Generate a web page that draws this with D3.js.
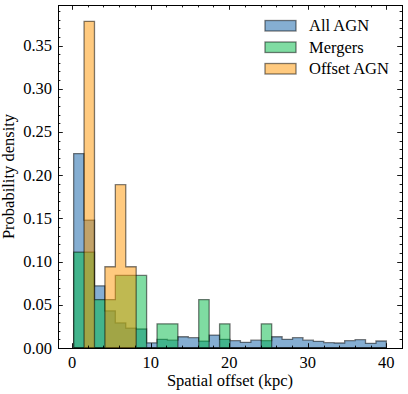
<!DOCTYPE html>
<html>
<head>
<meta charset="utf-8">
<script src="https://cdn.jsdelivr.net/npm/d3@7"></script>
<style>
  body { margin: 0; background: #fff; }
  svg text { font-family: "Liberation Serif", "DejaVu Serif", serif; fill: #000; }
</style>
</head>
<body>
<svg width="408" height="394"></svg>
<script>
'use strict';

// shared histogram bins: 30 bins from the smallest to the largest offset (kpc)
const binStart = 0.2, binEnd = 40, nBins = 30;

// probability density per bin
const allAgn = [0.225, 0.148, 0.072, 0.043, 0.029, 0.023, 0.022, 0.006, 0.010, 0.009,
                0.013, 0.012, 0.008, 0.015, 0.010, 0.0085, 0.0066, 0.009, 0.0085, 0.013,
                0.010, 0.012, 0.009, 0.0077, 0.0062, 0.0058, 0.0085, 0.0096, 0.0054, 0.0081];
const mergers = [0.111, 0.111, 0.056, 0.056, 0.084, 0.084, 0.084, 0, 0.028, 0.028,
                 0, 0, 0.056, 0, 0.028, 0, 0, 0, 0.028, 0,
                 0, 0, 0, 0, 0, 0, 0, 0, 0, 0];
const offsetAgn = [0, 0.378, 0, 0.094, 0.189, 0.094, 0, 0, 0, 0,
                   0, 0, 0, 0, 0, 0, 0, 0, 0, 0,
                   0, 0, 0, 0, 0, 0, 0, 0, 0, 0];

const seriesNames = ['All AGN', 'Mergers', 'Offset AGN'];
const seriesColors = ['#0C5DA5', '#00B945', '#FF9500'];

const xTicks = [0, 10, 20, 30, 40];
const yTicks = [0, 0.05, 0.10, 0.15, 0.20, 0.25, 0.30, 0.35];

const margin = { left: 58, right: 6, top: 5, bottom: 46 };
const W = 408, H = 394;
const fs = 16.5;

const svg = d3.select('svg');

const binW = (binEnd - binStart) / nBins;
const edges = d3.range(nBins + 1).map(i => binStart + i * binW);

// matplotlib-like 5% margins on x, top margin on y
const pad = (binEnd - binStart) * 0.05;
const yMax = d3.max([allAgn, mergers, offsetAgn].flat()) * 1.05;

const x = d3.scaleLinear()
  .domain([binStart - pad, binEnd + pad])
  .range([margin.left, W - margin.right]);
const y = d3.scaleLinear()
  .domain([0, yMax])
  .range([H - margin.bottom, margin.top]);

// step outline for a stepfilled histogram
function stepPoints(vals) {
  const pts = [[edges[0], 0]];
  vals.forEach((v, i) => {
    pts.push([edges[i], v]);
    pts.push([edges[i + 1], v]);
  });
  pts.push([edges[nBins], 0]);
  return pts;
}

const line = d3.line().x(d => x(d[0])).y(d => y(d[1]));

const g = svg.append('g');
[allAgn, mergers, offsetAgn].forEach((vals, k) => {
  g.append('path')
    .attr('d', line(stepPoints(vals)) + 'Z')
    .attr('fill', seriesColors[k])
    .attr('fill-opacity', 0.5)
    .attr('stroke', '#000')
    .attr('stroke-opacity', 0.5)
    .attr('stroke-width', 1.3)
    .attr('stroke-linejoin', 'miter');
});

// axes: ticks inside on all four sides
const x0 = margin.left, x1 = W - margin.right;
const y0 = H - margin.bottom, y1 = margin.top;

const xMinor = d3.range(0, 42, 2);
const yMinor = d3.range(0, 0.391, 0.01);

const ax = svg.append('g').attr('stroke', '#000').attr('stroke-width', 0.9);
xMinor.forEach(v => {
  const px = Math.round(x(v)) + 0.5;
  const major = xTicks.includes(v);
  const len = major ? 4.8 : 2.4;
  ax.append('line').attr('x1', px).attr('x2', px).attr('y1', y0).attr('y2', y0 - len);
  ax.append('line').attr('x1', px).attr('x2', px).attr('y1', y1).attr('y2', y1 + len);
});
yMinor.forEach(v => {
  const py = Math.round(y(v)) + 0.5;
  const major = yTicks.some(t => Math.abs(t - v) < 1e-6);
  const len = major ? 4.8 : 2.4;
  ax.append('line').attr('x1', x0).attr('x2', x0 + len).attr('y1', py).attr('y2', py);
  ax.append('line').attr('x1', x1).attr('x2', x1 - len).attr('y1', py).attr('y2', py);
});

svg.append('rect')
  .attr('x', x0 + 0.5).attr('y', y1 + 0.5)
  .attr('width', x1 - x0).attr('height', y0 - y1)
  .attr('fill', 'none').attr('stroke', '#000').attr('stroke-width', 1);

// tick labels
svg.append('g').selectAll('text').data(xTicks).join('text')
  .attr('x', d => x(d))
  .attr('y', 367.5)
  .attr('text-anchor', 'middle')
  .attr('font-size', fs)
  .text(d => d);

svg.append('g').selectAll('text').data(yTicks).join('text')
  .attr('x', 52)
  .attr('y', d => y(d) + 5.5)
  .attr('text-anchor', 'end')
  .attr('font-size', fs)
  .text(d => d3.format('.2f')(d));

// axis titles
svg.append('text')
  .attr('x', (x0 + x1) / 2)
  .attr('y', 385.5)
  .attr('text-anchor', 'middle')
  .attr('font-size', fs)
  .text('Spatial offset (kpc)');

svg.append('text')
  .attr('transform', `translate(14,${(y0 + y1) / 2}) rotate(-90)`)
  .attr('text-anchor', 'middle')
  .attr('font-size', fs)
  .text('Probability density');

// legend
const legend = svg.append('g');
seriesNames.forEach((name, k) => {
  const cy = 25.5 + k * 21.5;
  legend.append('rect')
    .attr('x', 265).attr('y', cy - 5)
    .attr('width', 31).attr('height', 10.5)
    .attr('fill', seriesColors[k]).attr('fill-opacity', 0.5)
    .attr('stroke', '#000').attr('stroke-opacity', 0.5).attr('stroke-width', 1.3);
  legend.append('text')
    .attr('x', 309).attr('y', cy + 5.5)
    .attr('font-size', fs)
    .text(name);
});
</script>
</body>
</html>
